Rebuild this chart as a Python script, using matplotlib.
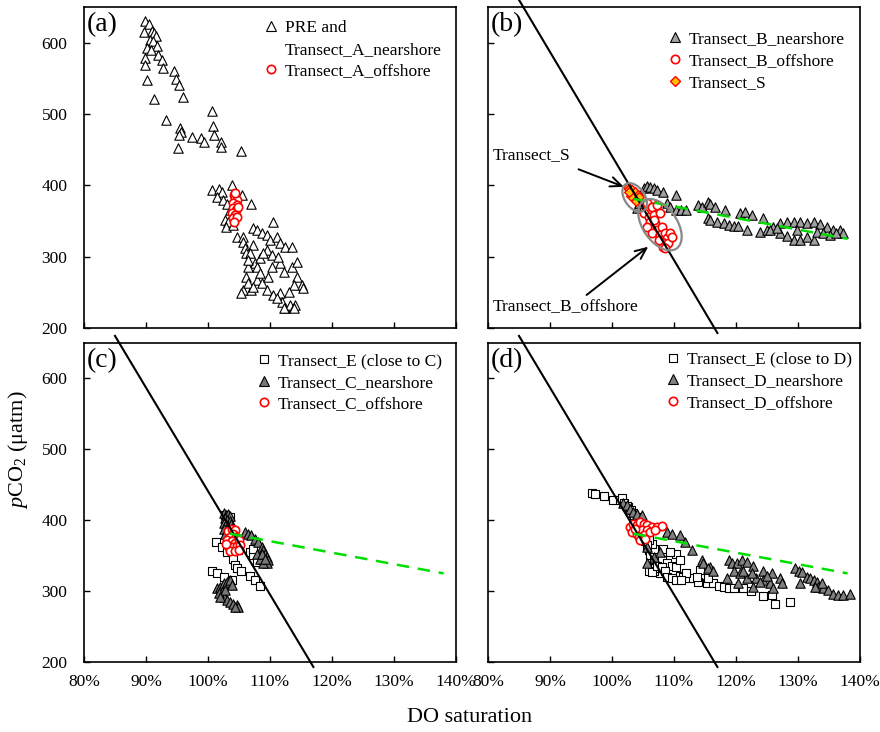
import matplotlib
matplotlib.use('Agg')
import matplotlib.pyplot as plt
from matplotlib.lines import Line2D
from matplotlib.patches import Ellipse
from matplotlib.transforms import Affine2D
from matplotlib.ticker import FuncFormatter

plt.rcParams['font.family'] = 'Liberation Serif'
plt.rcParams['mathtext.fontset'] = 'custom'
plt.rcParams['mathtext.rm'] = 'Liberation Serif'
plt.rcParams['mathtext.it'] = 'Liberation Serif:italic'

# --- data (DO saturation in %, pCO2 in uatm) ---
a_near_x = [89.8, 90.5, 89.7, 90.9, 91.3, 91.6, 90.7, 91.2, 90.1, 91.7, 90.8, 92.0, 89.8, 92.5, 89.8, 92.8, 90.1, 94.5, 94.8, 95.3,
            95.9, 91.3, 93.2, 100.7, 100.8, 95.5, 95.6, 95.3, 97.4, 98.8, 99.4, 100.9, 102.1, 102.1, 95.2, 105.3,
            100.7, 101.8, 102.2, 103.9, 105.5, 106.9, 101.4, 102.4, 103.0, 103.6, 102.8, 103.3, 102.9, 104.1, 104.7, 105.7, 105.6, 105.9,
            106.1, 107.3, 107.9, 108.7, 109.5, 110.5, 110.0, 111.1, 111.6, 112.4, 113.5, 107.3, 106.8, 107.6, 108.4, 106.5, 106.2, 105.7,
            105.4, 107.0, 107.9, 108.7, 109.7, 110.3, 111.6, 112.2, 113.5, 114.3, 114.3, 115.1, 115.4, 113.8, 113.0, 111.6, 111.9, 112.4,
            113.2, 114.0, 113.8, 112.2, 109.5, 110.5, 111.1, 109.5, 110.3, 111.3, 107.9, 108.4, 106.5, 107.3, 108.9, 106.5]
a_near_y = [630, 626, 615, 616, 613, 610, 604, 602, 592, 595, 590, 583, 578, 576, 568, 564, 547, 560, 549, 541,
            524, 521, 492, 504, 483, 480, 475, 471, 468, 466, 461, 471, 461, 454, 453, 448,
            394, 395, 390, 400, 386, 374, 384, 380, 374, 366, 352, 349, 341, 345, 328, 328, 320, 312,
            305, 340, 337, 333, 330, 349, 324, 328, 319, 314, 313, 316, 305, 291, 298, 286, 272, 253,
            249, 253, 267, 263, 272, 286, 291, 279, 286, 293, 272, 260, 256, 260, 251, 249, 237, 228,
            232, 232, 228, 228, 253, 246, 242, 309, 302, 300, 286, 277, 263, 258, 305, 295]
a_off_x = [104.2, 104.4, 104.6, 104.1, 104.7, 104.0, 104.5, 103.8, 104.4, 104.1, 104.6, 104.2, 104.9, 104.4]
a_off_y = [387, 382, 380, 375, 373, 368, 366, 361, 359, 354, 356, 349, 370, 389]

b_near_x = [105.1, 105.6, 106.1, 106.7, 107.2, 108.2, 110.3, 104.0, 104.3, 108.8, 109.4, 110.4, 111.2, 111.9, 113.9, 114.5,
            115.5, 115.8, 116.6, 118.2, 120.7, 121.5, 122.5, 124.3, 115.5, 115.8, 116.9, 118.0, 118.8, 119.6, 120.4, 121.7,
            123.9, 125.0, 126.0, 127.1, 128.2, 129.3, 130.3, 131.4, 132.5, 133.6, 134.6, 135.7, 136.8, 137.3, 127.1, 128.2,
            129.3, 130.3, 131.4, 132.5, 125.5, 126.6, 129.8, 133.0, 134.1, 135.2, 136.2]
b_near_y = [396, 399, 398, 396, 393, 390, 386, 368, 375, 375, 370, 366, 366, 365, 373, 370,
            377, 374, 369, 366, 361, 363, 359, 354, 354, 352, 349, 347, 345, 343, 343, 337,
            335, 337, 342, 347, 349, 348, 349, 347, 348, 346, 342, 337, 337, 333, 333, 329,
            323, 324, 328, 323, 337, 340, 337, 335, 333, 330, 333]
b_off_x = [105.6, 106.4, 107.2, 105.1, 105.9, 106.7, 107.7, 106.1, 106.9, 105.6, 107.2, 106.4, 108.0, 107.7, 108.6, 108.8,
           108.0, 109.1, 108.3, 109.4, 107.5, 106.7, 108.6, 109.6]
b_off_y = [375, 370, 373, 361, 356, 359, 361, 349, 347, 342, 337, 333, 342, 330, 333, 326,
           321, 319, 314, 333, 323, 352, 312, 328]
s_x = [102.5, 102.8, 103.0, 103.2, 103.5, 103.8, 104.0, 103.3, 103.7, 104.2, 103.0, 102.7, 104.4, 103.9]
s_y = [398, 395, 392, 389, 386, 383, 380, 394, 390, 386, 385, 390, 383, 378]

c_e_x = [101.3, 102.2, 103.0, 104.1, 104.4, 104.6, 105.3, 106.8, 107.6, 108.4, 100.6, 101.4, 102.5, 103.8, 106.8, 107.3,
         107.9, 107.3, 108.7, 104.9, 102.8, 103.2, 102.9, 103.3, 103.6]
c_e_y = [369, 362, 355, 346, 337, 332, 328, 322, 315, 307, 329, 325, 320, 316, 355, 351,
         341, 360, 344, 358, 408, 402, 396, 390, 404]
c_near_x = [102.6, 102.9, 103.3, 103.6, 102.7, 103.1, 103.5, 102.5, 102.9, 103.3, 103.7, 102.6, 103.0, 103.4, 102.8, 103.8,
            106.0, 106.5, 107.0, 107.6, 108.1, 108.7, 108.9, 109.2, 109.5, 109.7, 109.5, 108.9, 108.4, 107.9, 108.7, 109.2,
            101.4, 101.9, 102.5, 103.0, 103.6, 103.8, 102.2, 102.5, 103.0, 103.6, 104.1, 104.6, 104.9, 101.7, 102.7, 104.4, 101.9]
c_near_y = [410, 408, 409, 406, 403, 401, 399, 396, 394, 392, 395, 388, 386, 384, 381, 389,
            384, 381, 379, 374, 369, 362, 358, 353, 348, 344, 339, 339, 346, 353, 353, 346,
            304, 306, 311, 313, 315, 308, 299, 292, 287, 285, 282, 280, 278, 297, 301, 278, 292]
c_off_x = [103.2, 103.8, 104.3, 104.0, 103.5, 104.5, 103.0, 103.8, 104.4, 105.0, 103.3, 104.0, 104.7, 105.2, 103.6, 104.3, 105.0, 102.9]
c_off_y = [385, 388, 386, 380, 376, 377, 372, 370, 368, 372, 364, 362, 363, 365, 357, 356, 358, 366]

d_e_x = [96.7, 97.3, 98.7, 100.1, 101.3, 101.6, 102.6, 103.4, 104.3, 105.9, 106.1, 106.7, 107.2, 107.7, 106.7, 108.0,
         108.8, 109.6, 110.4, 111.0, 111.5, 112.3, 113.1, 113.9, 114.2, 115.3, 116.3, 117.2, 118.0, 118.8, 119.6, 121.2,
         122.4, 124.3, 125.8, 126.3, 128.7, 110.4, 111.0, 108.3, 109.4, 106.7, 106.4, 105.9, 112.0, 113.7, 115.5,
         106.1, 106.9, 107.5, 105.9, 106.4, 107.2, 108.0, 108.6, 108.8, 109.6, 110.4, 111.2,
         102.0, 102.4, 103.0, 103.6, 104.0, 104.4, 104.8, 105.0, 105.3, 105.6]
d_e_y = [438, 437, 434, 429, 428, 431, 419, 410, 405, 358, 351, 344, 339, 325, 329, 344,
         339, 336, 334, 322, 320, 319, 318, 313, 330, 312, 311, 307, 306, 304, 304, 304,
         300, 293, 294, 282, 285, 353, 344, 360, 355, 360, 367, 372, 325, 320, 318,
         334, 333, 332, 329, 327, 336, 334, 329, 320, 318, 315, 315,
         424, 420, 414, 408, 400, 394, 386, 378, 370, 365]
d_near_x = [101.8, 102.4, 102.9, 103.4, 104.0, 104.8, 108.8, 109.6, 111.0, 111.8, 112.9, 114.5, 115.8, 118.8, 119.3, 120.1,
            120.9, 121.7, 122.8, 124.4, 125.8, 119.6, 120.7, 121.7, 123.3, 124.4, 125.5, 126.0, 127.1, 127.4, 129.5, 130.1,
            130.3, 130.6, 131.4, 131.9, 132.5, 133.0, 133.3, 134.1, 134.9, 135.7, 136.5, 137.3, 138.4, 118.5, 120.4, 122.8,
            123.9, 122.5, 121.2, 114.7, 115.5, 116.3, 125.0, 133.8, 132.7, 105.6, 106.7, 107.7, 105.6]
d_near_y = [424, 421, 416, 412, 409, 407, 384, 381, 379, 369, 358, 344, 334, 344, 339, 339,
            344, 341, 336, 329, 325, 329, 325, 318, 318, 315, 311, 304, 318, 311, 332, 329,
            311, 327, 320, 318, 315, 313, 306, 304, 301, 296, 294, 294, 296, 318, 311, 306,
            313, 325, 329, 339, 333, 329, 322, 311, 306, 362, 348, 355, 339]
d_off_x = [102.9, 103.4, 104.0, 104.5, 105.1, 105.6, 106.4, 107.2, 108.0, 103.2, 104.0, 104.8, 105.6, 105.1, 104.3, 103.7,
           106.1, 106.9, 104.5, 105.3]
d_off_y = [391, 395, 393, 398, 395, 393, 391, 391, 392, 384, 381, 386, 386, 379, 376, 388,
           384, 386, 372, 374]

# reference lines
mix_x = [85.0, 117.0]
mix_y = [660, 193]
fit_x = [103.5, 138.0]
fit_y = [381, 325]

# --- figure / axes ---
fig = plt.figure(figsize=(8.8, 7.32), dpi=100)
W, H = 880.0, 732.0
axa = fig.add_axes([84 / W, 1 - 328 / H, 372 / W, 321 / H])
axb = fig.add_axes([488 / W, 1 - 328 / H, 372 / W, 321 / H])
axc = fig.add_axes([84 / W, 1 - 662 / H, 372 / W, 319 / H])
axd = fig.add_axes([488 / W, 1 - 662 / H, 372 / W, 319 / H])

tri_open = dict(marker='^', s=46, facecolor='white', edgecolor='black', linewidths=0.8)
red_circ = dict(marker='o', s=36, facecolor='white', edgecolor='red', linewidths=1.2)
sq_open = dict(marker='s', s=38, facecolor='white', edgecolor='black', linewidths=0.8)

axa.scatter(a_near_x, a_near_y, zorder=2, **tri_open)
axa.scatter(a_off_x, a_off_y, zorder=3, **red_circ)

axb.scatter(b_near_x, b_near_y, marker='^', s=46, facecolor='#a0a0a0', edgecolor='black', linewidths=0.8, zorder=2)
axb.scatter(b_off_x, b_off_y, zorder=3, **red_circ)
axb.scatter(s_x, s_y, marker='D', s=24, facecolor='#ffc000', edgecolor='red', linewidths=1.0, zorder=3)

axc.scatter(c_e_x, c_e_y, zorder=2, **sq_open)
axc.scatter(c_near_x, c_near_y, marker='^', s=46, facecolor='#777777', edgecolor='black', linewidths=0.8, zorder=2)
axc.scatter(c_off_x, c_off_y, zorder=3, **red_circ)

axd.scatter(d_e_x, d_e_y, zorder=2, **sq_open)
axd.scatter(d_near_x, d_near_y, marker='^', s=46, facecolor='#808080', edgecolor='black', linewidths=0.8, zorder=2)
axd.scatter(d_off_x, d_off_y, zorder=3, **red_circ)

for ax in (axb, axc, axd):
    ax.plot(mix_x, mix_y, color='black', lw=1.5, zorder=4, clip_on=False)
    ax.plot(fit_x, fit_y, color='#00dd00', lw=1.8, ls=(0, (5, 3.5)), zorder=4)

# ellipses in (b): sizes given in pixels, scaled to data units
px_x = 372 / 60.0
px_y = 321 / 450.0
for cx, cy, w, h, ang in [(103.66, 383.0, 32, 20, -55), (107.74, 344.8, 58, 34, -55)]:
    e = Ellipse((0, 0), w, h, angle=ang, fill=False, edgecolor='#888888', lw=1.6, zorder=5,
                transform=Affine2D().scale(1 / px_x, 1 / px_y).translate(cx, cy) + axb.transData)
    axb.add_patch(e)

arrow = dict(arrowstyle='->,head_length=0.8,head_width=0.35', color='black', lw=1.4, shrinkA=0, shrinkB=0)
axb.annotate('', xy=(101.9, 398), xytext=(94.6, 422.5), arrowprops=arrow, zorder=6)
axb.annotate('', xy=(105.85, 314), xytext=(95.9, 246.3), arrowprops=arrow, zorder=6)
axb.text(80.8, 442.5, 'Transect_S', fontsize=12.5, va='center', ha='left')
axb.text(80.8, 230, 'Transect_B_offshore', fontsize=12.5, va='center', ha='left')

# --- axes styling ---
pct = FuncFormatter(lambda v, p: '%d%%' % v)
for ax, lab in zip((axa, axb, axc, axd), ('(a)', '(b)', '(c)', '(d)')):
    ax.set_xlim(80, 140)
    ax.set_ylim(200, 650)
    ax.set_xticks([80, 90, 100, 110, 120, 130, 140])
    ax.set_yticks([200, 300, 400, 500, 600])
    ax.xaxis.set_major_formatter(pct)
    ax.tick_params(direction='in', length=4, width=1, labelsize=12.5)
    ax.tick_params(axis='x', pad=9)
    ax.tick_params(axis='y', pad=12)
    for sp in ax.spines.values():
        sp.set_linewidth(1.2)
    ax.text(0.008, 0.985, lab, transform=ax.transAxes, fontsize=20, va='top', ha='left')

axa.tick_params(labelbottom=False)
axb.tick_params(labelbottom=False, labelleft=False)
axd.tick_params(labelleft=False)

# --- legends ---
leg_kw = dict(loc='upper right', frameon=False, fontsize=12.5, borderaxespad=0, borderpad=0,
              handletextpad=0.3, handlelength=1.0, labelspacing=0.32)


def mk(marker, fc, ec, ms=6.8, mew=0.8):
    return Line2D([], [], ls='none', marker=marker, markerfacecolor=fc, markeredgecolor=ec, markersize=ms, markeredgewidth=mew)


axa.legend([mk('^', 'white', 'black'), Line2D([], [], ls='none'), mk('o', 'white', 'red', 6, 1.2)],
           ['PRE and', 'Transect_A_nearshore', 'Transect_A_offshore'],
           bbox_to_anchor=(0.962, 0.96), **leg_kw)
axb.legend([mk('^', '#a0a0a0', 'black'), mk('o', 'white', 'red', 6, 1.2), mk('D', '#ffc000', 'red', 4.8, 1.0)],
           ['Transect_B_nearshore', 'Transect_B_offshore', 'Transect_S'],
           bbox_to_anchor=(0.96, 0.925), **leg_kw)
axc.legend([mk('s', 'white', 'black', 6.2), mk('^', '#777777', 'black'), mk('o', 'white', 'red', 6, 1.2)],
           ['Transect_E (close to C)', 'Transect_C_nearshore', 'Transect_C_offshore'],
           bbox_to_anchor=(0.962, 0.969), **leg_kw)
axd.legend([mk('s', 'white', 'black', 6.2), mk('^', '#808080', 'black'), mk('o', 'white', 'red', 6, 1.2)],
           ['Transect_E (close to D)', 'Transect_D_nearshore', 'Transect_D_offshore'],
           bbox_to_anchor=(0.978, 0.973), **leg_kw)

fig.text(18 / W, 1 - 450 / H, '$\\mathit{p}$CO$_2$ (\u03bcatm)', rotation=90, fontsize=16, ha='center', va='center')
fig.text(470 / W, 1 - 718 / H, 'DO saturation', fontsize=16, ha='center', va='center')

fig.savefig('out.png', dpi=100)
